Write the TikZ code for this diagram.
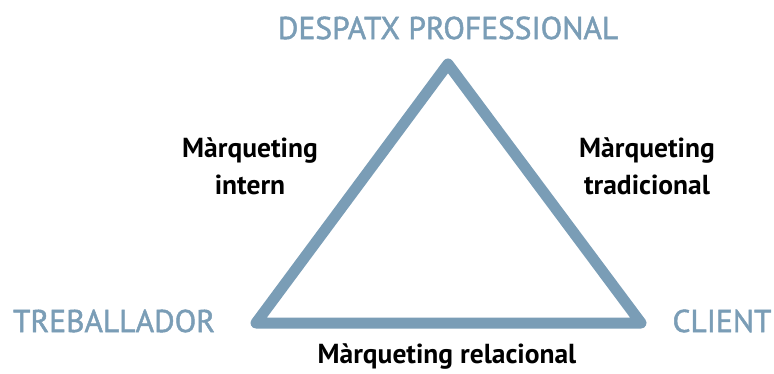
\documentclass[tikz,border=0pt]{standalone}
\usepackage{fontspec}
\setmainfont{PT Sans}
\newfontfamily\bluefont{PT Sans}[FakeBold=1.5]
\definecolor{tri}{HTML}{7A9DB6}
\begin{document}
\begin{tikzpicture}[x=1pt,y=-1pt,
  corner/.style={text=tri,font=\bluefont\fontsize{31.5}{32}\selectfont,inner sep=0pt},
  lab/.style={text=black,font=\fontsize{27.5}{37}\selectfont\bfseries,align=center,inner sep=0pt}]
\useasboundingbox (0,0) rectangle (774,374);
\coordinate (T) at (448,64);
\coordinate (L) at (256,323);
\coordinate (R) at (641,323);
\draw[tri,line width=11pt,line join=round] (T) -- (L) -- (R) -- cycle;
\node[corner] (top) at (448,28) {DESPATX PROFESSIONAL};
\node[corner] (left) at (114,321) {TREBALLADOR};
\node[corner] (right) at (722,321) {CLIENT};
\node[lab] (mi) at (250,166) {Màrqueting\\intern};
\node[lab] (mt) at (647,166) {Màrqueting\\tradicional};
\node[lab] (mr) at (447,357) {Màrqueting relacional};
\end{tikzpicture}
\end{document}
